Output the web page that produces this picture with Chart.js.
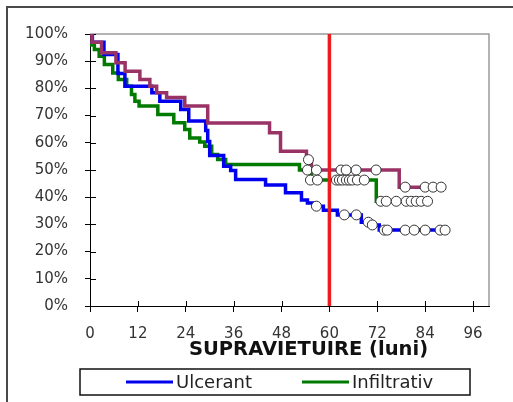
<!DOCTYPE html>
<html>
<head>
<meta charset="utf-8">
<title>Supravietuire</title>
<script src="https://cdn.jsdelivr.net/npm/chart.js@4.4.1/dist/chart.umd.min.js"></script>
<style>
  html, body { margin: 0; padding: 0; background: #fff; }
  #wrap  { position: relative; width: 513px; height: 402px; }
  #frame { position: absolute; left: 6px; top: 6px; right: 0; bottom: 0;
           border-top: 2px solid #4a4a4a; border-left: 2px solid #4a4a4a; pointer-events: none; }
</style>
</head>
<body>
<div id="wrap">
  <canvas id="chart" width="513" height="402"></canvas>
  <div id="frame"></div>
</div>
<script>
// ── Data ──────────────────────────────────────────────────────────────────────
const X_TICKS      = [0, 12, 24, 36, 48, 60, 72, 84, 96];
const Y_TICKS      = [0, 10, 20, 30, 40, 50, 60, 70, 80, 90, 100];
const CUTOFF_MONTH = 60;
const X_TITLE      = "SUPRAVIETUIRE (luni)";
const LEGEND_LABELS = ["Ulcerant", "Infiltrativ"];

// Ulcerant (blue): event times (months) / survival after the event (%)
const ulcerantTimes = [0, 0.6, 3.5, 7, 8.75, 15.5, 17.5, 22.75, 24.75, 29, 29.5, 30, 33.5, 35.25, 36.5,
                       44, 49, 53, 54.5, 56, 58.5, 62, 68, 70.25, 72.5, 89];
const ulcerantSurv  = [100, 97, 92.5, 85.5, 80.8, 78.4, 75.3, 72.2, 68, 64.5, 60.5, 55.3, 51.4, 49.8, 46.5,
                       44.5, 41.6, 39, 37.9, 36.7, 35.2, 33.5, 30.8, 29.8, 27.9, 27.9];
const ulcerantCensT = [56.75, 63.75, 66.75, 69.75, 70.75, 73.75, 74.5, 79, 81.25, 84, 87.75, 89];
const ulcerantCensS = [36.7, 33.5, 33.5, 30.8, 29.8, 27.9, 27.9, 27.9, 27.9, 27.9, 27.9, 27.9];

// Infiltrativ (green)
const infiltrTimes = [0, 1.1, 2.3, 3.6, 5.7, 7.1, 9.2, 10.4, 11.25, 12.3, 17, 21, 23.75, 25, 27.5, 28.75,
                      30.5, 32, 34, 52.5, 55.5, 71.75, 84.6];
const infiltrSurv  = [96, 94.3, 91.8, 88.8, 85.7, 83.3, 80.8, 77.8, 75.3, 73.5, 70.4, 67.4, 64.9, 61.8, 60.3, 58.7,
                      55.7, 53.9, 52, 50, 46.3, 38.5, 38.5];
const infiltrCensT = [54.5, 55.25, 57, 61.75, 62.5, 63.25, 64.25, 65, 65.75, 67, 68.75,
                      72.9, 74.25, 76.75, 79.25, 80.5, 81.75, 83, 84.6];
const infiltrCensS = [50, 46.3, 46.3, 46.3, 46.3, 46.3, 46.3, 46.3, 46.3, 46.3, 46.3,
                      38.5, 38.5, 38.5, 38.5, 38.5, 38.5, 38.5, 38.5];

// Vegetant (purple, not in the legend)
const vegetTimes = [0, 0.5, 2.9, 6.5, 8.8, 12.5, 15, 16.7, 19.2, 23.75, 29.5, 45, 47.75, 54.25, 55.5, 77.5, 88];
const vegetSurv  = [100, 97, 93.1, 89.4, 86.3, 83.3, 80.8, 78.4, 76.7, 73.5, 67.3, 63.7, 56.9, 53.8, 50, 43.7, 43.7];
const vegetCensT = [54.75, 56.75, 62.9, 64.2, 66.7, 71.7, 79, 84, 86, 88];
const vegetCensS = [53.8, 50, 50, 50, 50, 50, 43.7, 43.7, 43.7, 43.7];

// ── Helpers ───────────────────────────────────────────────────────────────────
const pts  = (xs, ys) => xs.map((x, i) => ({ x, y: ys[i] }));
const FONT = "'DejaVu Sans', Verdana, sans-serif";

function curve(label, times, surv, color) {
  return {
    label, data: pts(times, surv), stepped: "before",
    borderColor: color, backgroundColor: color, borderWidth: 3.5,
    pointRadius: 0, fill: false, order: 2,
  };
}

function censored(label, times, surv) {
  return {
    label, data: pts(times, surv), showLine: false,
    pointRadius: 5, pointBackgroundColor: "#fff", pointBorderColor: "#333",
    pointBorderWidth: 1, order: 0,
  };
}

// ── Plugins ───────────────────────────────────────────────────────────────────
// grey frame on top/right of the plot + tick marks crossing the axes
const plotFrame = {
  id: "plotFrame",
  beforeDatasetsDraw(chart) {
    const { ctx, chartArea: a, scales: { x, y } } = chart;
    ctx.save();
    ctx.strokeStyle = "#9a9a9a";
    ctx.lineWidth = 1.5;
    ctx.beginPath();
    ctx.moveTo(a.left, a.top);
    ctx.lineTo(a.right, a.top);
    ctx.lineTo(a.right, a.bottom);
    ctx.stroke();

    ctx.strokeStyle = "#000";
    ctx.lineWidth = 1;
    ctx.beginPath();
    x.ticks.forEach((t) => {
      const px = Math.round(x.getPixelForValue(t.value)) + 0.5;
      ctx.moveTo(px, a.bottom);
      ctx.lineTo(px, a.bottom - 5);
    });
    y.ticks.forEach((t) => {
      const py = Math.round(y.getPixelForValue(t.value)) + 0.5;
      ctx.moveTo(a.left, py);
      ctx.lineTo(a.left + 6, py);
    });
    ctx.stroke();
    ctx.restore();
  },
};

// boxed legend under the axis title
const boxedLegend = {
  id: "boxedLegend",
  afterDraw(chart) {
    const { ctx } = chart;
    const box   = { left: 80, top: 369, width: 390, height: 26 };
    const items = chart.data.datasets.filter((d) => LEGEND_LABELS.includes(d.label));
    const midY  = box.top + box.height / 2;

    ctx.save();
    ctx.fillStyle = "#fff";
    ctx.fillRect(box.left, box.top, box.width, box.height);
    ctx.strokeStyle = "#111";
    ctx.lineWidth = 1.5;
    ctx.strokeRect(box.left, box.top, box.width, box.height);

    ctx.font = `18px ${FONT}`;
    ctx.textBaseline = "middle";
    ctx.fillStyle = "#222";
    items.forEach((d, i) => {
      const x0 = box.left + 46 + i * 176;
      ctx.strokeStyle = d.borderColor;
      ctx.lineWidth = 3;
      ctx.beginPath();
      ctx.moveTo(x0, midY);
      ctx.lineTo(x0 + 47, midY);
      ctx.stroke();
      ctx.fillText(d.label, x0 + 50, midY + 1);
    });
    ctx.restore();
  },
};

// the axis title in the original sits a little right of the plot centre
const shiftAxisTitle = {
  id: "shiftAxisTitle",
  afterLayout(chart) {
    const s = chart.scales.x;
    if (s._shifted) return;
    const draw = s.drawTitle.bind(s);
    s.drawTitle = function () {
      this.ctx.save();
      this.ctx.translate(19, 0);
      draw();
      this.ctx.restore();
    };
    s._shifted = true;
  },
};

// ── Chart ─────────────────────────────────────────────────────────────────────
new Chart(document.getElementById("chart"), {
  type: "line",
  data: {
    datasets: [
      censored("Vegetant cenzurat", vegetCensT, vegetCensS),
      censored("Infiltrativ cenzurat", infiltrCensT, infiltrCensS),
      censored("Ulcerant cenzurat", ulcerantCensT, ulcerantCensS),
      {
        label: "60 luni", data: [{ x: CUTOFF_MONTH, y: 0 }, { x: CUTOFF_MONTH, y: 100 }],
        borderColor: "#ee1c1c", borderWidth: 3.5, pointRadius: 0, order: 1,
      },
      curve("Vegetant", vegetTimes, vegetSurv, "#993366"),
      curve("Ulcerant", ulcerantTimes, ulcerantSurv, "#0000ee"),
      curve("Infiltrativ", infiltrTimes, infiltrSurv, "#007a00"),
    ],
  },
  options: {
    responsive: false,
    animation: false,
    layout: { padding: { left: 0, top: 34, right: 24, bottom: 40 } },
    plugins: {
      legend:  { display: false },
      tooltip: { enabled: false },
    },
    scales: {
      x: {
        type: "linear", min: 0, max: 100,
        afterBuildTicks: (s) => { s.ticks = X_TICKS.map((v) => ({ value: v })); },
        afterFit: (s) => { s.height = 56; },
        ticks: { font: { family: FONT, size: 15 }, color: "#333", padding: 13, maxRotation: 0 },
        grid: { drawOnChartArea: false, drawTicks: true, tickLength: 6, color: "#000" },
        border: { color: "#000", width: 1 },
        title: {
          display: true, text: X_TITLE, color: "#111",
          font: { family: FONT, size: 19.5, weight: "bold" }, padding: { top: 0, bottom: 0 },
        },
      },
      y: {
        type: "linear", min: 0, max: 100,
        afterBuildTicks: (s) => { s.ticks = Y_TICKS.map((v) => ({ value: v })); },
        afterFit: (s) => { s.width = 90; },
        ticks: { font: { family: FONT, size: 15 }, color: "#333", padding: 17, callback: (v) => v + "%" },
        grid: { drawOnChartArea: false, drawTicks: true, tickLength: 5, color: "#000" },
        border: { color: "#000", width: 1 },
      },
    },
  },
  plugins: [plotFrame, boxedLegend, shiftAxisTitle],
});
</script>
</body>
</html>
